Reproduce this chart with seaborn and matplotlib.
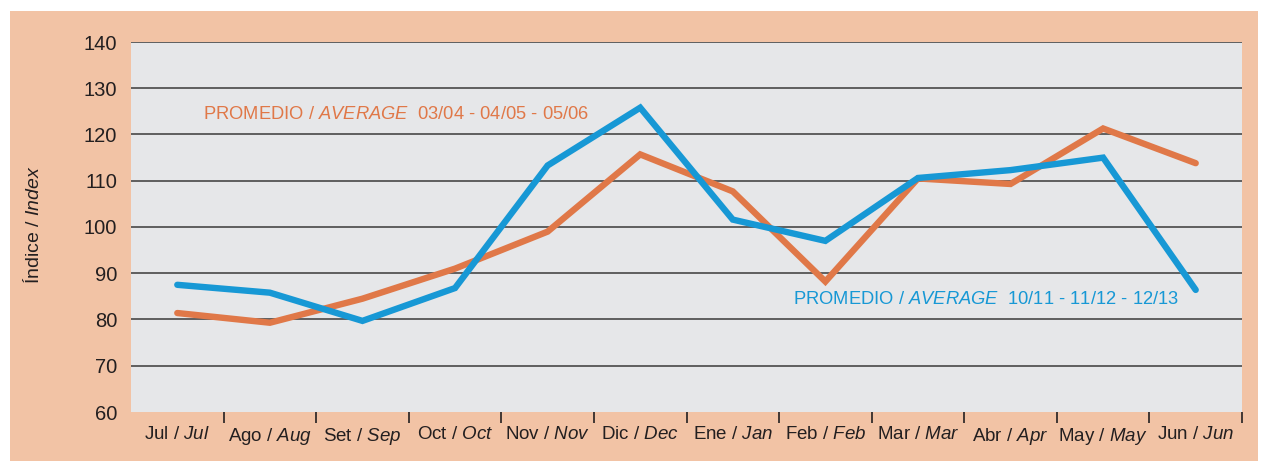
import matplotlib
matplotlib.use("Agg")
import matplotlib.pyplot as plt
import matplotlib.patches as mpatches
import seaborn as sns
import pandas as pd

months_es = ["Jul", "Ago", "Set", "Oct", "Nov", "Dic", "Ene", "Feb", "Mar", "Abr", "May", "Jun"]
months_en = ["Jul", "Aug", "Sep", "Oct", "Nov", "Dec", "Jan", "Feb", "Mar", "Apr", "May", "Jun"]
avg_0306 = [81.4, 79.3, 84.5, 91.0, 99.0, 115.7, 107.7, 88.2, 110.5, 109.3, 121.3, 113.8]
avg_1013 = [87.5, 85.8, 79.7, 86.8, 113.3, 125.8, 101.6, 97.0, 110.6, 112.3, 115.0, 86.4]
series_names = ["03/04 - 04/05 - 05/06", "10/11 - 11/12 - 12/13"]

FONT = ["Liberation Sans", "DejaVu Sans"]
sns.set_style("white")
plt.rcParams["font.family"] = FONT
plt.rcParams["mathtext.fontset"] = "custom"
plt.rcParams["mathtext.rm"] = "Liberation Sans"
plt.rcParams["mathtext.it"] = "Liberation Sans:italic"

ORANGE = "#E07848"
BLUE = "#1798D5"
PEACH = "#F2C3A5"
PLOTBG = "#E6E7E9"
TXT = "#231F20"

df = pd.DataFrame({
    "month": months_es * 2,
    "value": avg_0306 + avg_1013,
    "series": [series_names[0]] * 12 + [series_names[1]] * 12,
})

fig = plt.figure(figsize=(12.62, 4.61), dpi=100, facecolor="white")
fig.patches.append(mpatches.Rectangle((10 / 1262, 0), 1248 / 1262, 450 / 461,
                                      transform=fig.transFigure, facecolor=PEACH,
                                      edgecolor="none", zorder=-10))
ax = fig.add_axes([131 / 1262, 49 / 461, 1111 / 1262, 370 / 461])
ax.set_facecolor(PLOTBG)

sns.lineplot(data=df, x="month", y="value", hue="series", sort=False,
             palette=[ORANGE, BLUE], linewidth=4.6, legend=False, ax=ax,
             solid_capstyle="round", solid_joinstyle="miter")
for ln in ax.lines:
    ln.set_zorder(3)

ax.set_xlim(-0.5, 11.5)
ax.set_ylim(60, 140)
ax.set_yticks(range(60, 141, 10))
ax.set_yticklabels([str(v) for v in range(60, 141, 10)], fontsize=14.5, color=TXT)
for v in range(70, 141, 10):
    ax.axhline(v, color="#3a3a3a", linewidth=1.1, zorder=1)

ax.set_xticks(range(12))
ax.set_xticklabels([f"{a} / $\\mathit{{{b}}}$" for a, b in zip(months_es, months_en)],
                   fontsize=13.5, color=TXT)
ax.set_xticks([i + 0.5 for i in range(12)], minor=True)
ax.tick_params(axis="x", which="major", bottom=True, length=0, pad=10)
ax.tick_params(axis="x", which="minor", bottom=True, length=8, width=1.2,
               color=TXT, direction="out")
ax.tick_params(axis="y", length=0, pad=10)
for s in ax.spines.values():
    s.set_visible(False)
ax.set_xlabel("")
ax.set_ylabel("")

fig.text(33 / 1262, 1 - 225 / 461, "Índice / $\\mathit{Index}$", rotation=90,
         ha="center", va="center", fontsize=14, color=TXT)

ax.text(0.0648, 0.805, "PROMEDIO / $\\mathit{AVERAGE}$  " + series_names[0],
        transform=ax.transAxes, ha="left", va="center", fontsize=13.2, color=ORANGE)
ax.text(0.596, 0.303, "PROMEDIO / $\\mathit{AVERAGE}$  " + series_names[1],
        transform=ax.transAxes, ha="left", va="center", fontsize=13.2, color=BLUE)

fig.savefig("out.png", dpi=100, facecolor="white")
